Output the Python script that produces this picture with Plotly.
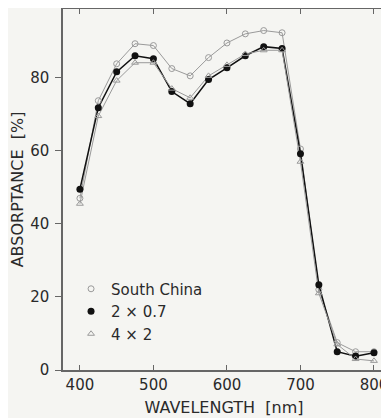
import plotly.graph_objects as go

wavelength = [400, 425, 450, 475, 500, 525, 550, 575, 600, 625, 650, 675, 700, 725, 750, 775, 800]
south_china = [47.0, 73.7, 83.8, 89.3, 88.8, 82.5, 80.5, 85.5, 89.5, 92.0, 92.9, 92.3, 60.5, 22.0, 7.5, 5.0, 5.0]
s_2x07 = [49.5, 71.8, 81.6, 86.0, 85.2, 76.2, 72.9, 79.5, 82.7, 86.0, 88.5, 88.0, 59.2, 23.3, 5.0, 3.8, 4.7]
s_4x2 = [45.5, 69.5, 79.2, 84.1, 84.1, 77.0, 74.5, 80.5, 83.5, 86.5, 87.5, 87.5, 57.0, 21.0, 7.0, 3.0, 2.5]
x_ticks = [400, 500, 600, 700, 800]
y_ticks = [0, 20, 40, 60, 80]

gray = "#9a9a9a"
fig = go.Figure()
series = [
    ("South China", south_china, dict(symbol="circle-open", size=6, color=gray, line=dict(width=1, color=gray)), dict(color=gray, width=1)),
    ("2 \u00d7 0.7", s_2x07, dict(symbol="circle", size=7, color="#111"), dict(color="#111", width=1.5)),
    ("4 \u00d7 2", s_4x2, dict(symbol="triangle-up-open", size=6, color=gray, line=dict(width=1, color=gray)), dict(color=gray, width=1)),
]
for name, ys, mk, ln in series:
    fig.add_trace(go.Scatter(x=wavelength, y=ys, mode="lines", line=ln, showlegend=False, hoverinfo="skip"))
for name, ys, mk, ln in series:
    fig.add_trace(go.Scatter(x=wavelength, y=ys, mode="markers", marker=mk, name=name))

font = dict(family="DejaVu Sans, Liberation Sans, sans-serif", color="#2a2a2a")
fig.update_layout(
    width=381, height=410,
    margin=dict(l=55, r=4, t=1, b=48),
    paper_bgcolor="#f5f5f2", plot_bgcolor="#f5f5f2",
    font=dict(size=15, **font),
    legend=dict(x=0.025, y=0.27, xanchor="left", yanchor="top", bgcolor="rgba(0,0,0,0)",
                font=dict(size=15, **font), tracegroupgap=0, itemwidth=30),
    xaxis=dict(range=[377, 815], tickvals=x_ticks, ticks="inside", ticklen=5, tickcolor="#666",
               showline=True, linecolor="#666", linewidth=1.5, mirror="ticks", showgrid=False, zeroline=False,
               automargin=False, tickfont=dict(size=15, **font),
               title=dict(text="WAVELENGTH  [nm]", font=dict(size=16, **font), standoff=9)),
    yaxis=dict(range=[0, 98.8], tickvals=y_ticks, ticks="outside", ticklen=6, tickcolor="#666",
               showline=True, linecolor="#666", linewidth=1.5, showgrid=False, zeroline=False,
               ticklabelstandoff=3, automargin=False, tickfont=dict(size=15, **font),
               title=dict(text="ABSORPTANCE  [%]", font=dict(size=16, **font), standoff=4)),
)
fig.write_html("out.html")
